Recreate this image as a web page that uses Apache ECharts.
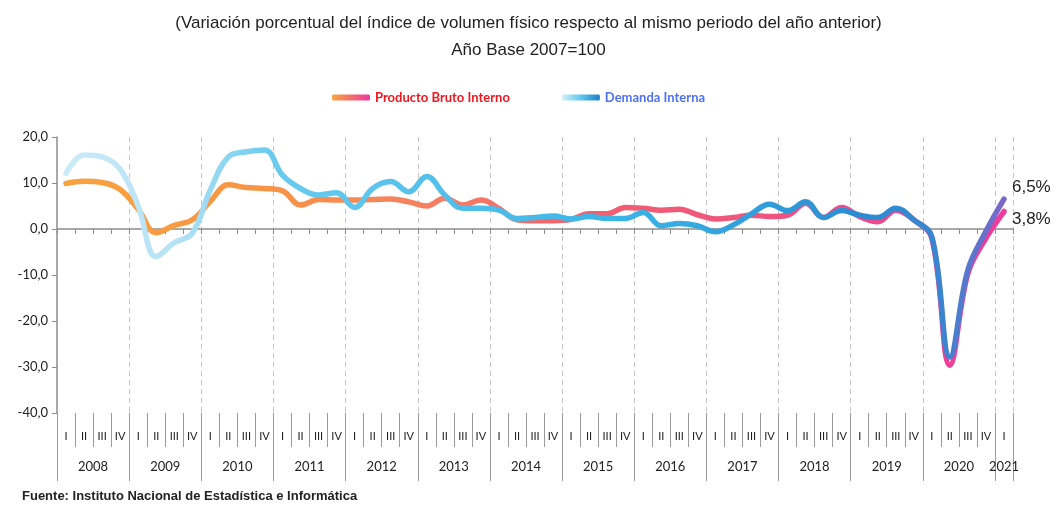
<!DOCTYPE html>
<html>
<head>
<meta charset="utf-8">
<script src="https://cdn.jsdelivr.net/npm/echarts@6/dist/echarts.min.js"></script>
<style>
  html, body { margin: 0; padding: 0; background: #fff; }
  #chart { width: 1057px; height: 511px; }
</style>
</head>
<body>
<div id="chart"></div>
<script>
// años y trimestres del eje
var anios = ['2008', '2009', '2010', '2011', '2012', '2013', '2014', '2015', '2016', '2017', '2018', '2019', '2020', '2021'];
var trimestresNombre = ['I', 'II', 'III', 'IV'];

// variacion % PBI (2008-I a 2021-I)
var pbi = [
    9.9, 10.4, 10.1, 8.6,
    4.3, -0.8, 0.8, 2.0,
    6.0, 9.6, 9.0, 8.8,
    8.3, 5.2, 6.4, 6.3,
    6.3, 6.4, 6.5, 5.9,
    5.0, 6.7, 5.2, 6.3,
    4.5, 2.0, 1.8, 1.8,
    2.1, 3.3, 3.3, 4.7,
    4.5, 4.1, 4.3, 3.1,
    2.2, 2.5, 3.0, 2.7,
    3.0, 5.6, 2.5, 4.7,
    2.7, 1.6, 4.1, 2.0,
    -2.0, -29.6, -9.6, -2.0,
    3.8
];

// variacion % Demanda Interna
var demanda = [
    12.1, 16.1, 15.7, 13.0,
    5.0, -6.0, -3.0, -0.9,
    8.5, 15.7, 16.8, 17.2,
    11.7, 8.8, 7.4, 7.9,
    4.7, 8.8, 10.3, 8.1,
    11.4, 7.4, 4.5, 4.5,
    4.1, 2.3, 2.5, 2.8,
    2.2, 2.7, 2.3, 2.3,
    3.6, 0.7, 1.2, 0.7,
    -0.6, 0.9, 3.3, 5.4,
    4.0, 5.9, 2.5, 4.0,
    3.0, 2.5, 4.5, 2.0,
    -1.7, -27.8, -8.9, -0.5,
    6.5
];

var categorias = [];
for (var a = 0; a < anios.length; a++) {
    for (var q = 0; q < 4; q++) {
        if (categorias.length < pbi.length) {
            categorias.push(trimestresNombre[q]);
        }
    }
}

function coma(v, dec) {
    return v.toFixed(dec).replace('.', ',');
}

var colorPbi = new echarts.graphic.LinearGradient(0, 0, 1, 0, [
    {offset: 0, color: '#F7A33F'},
    {offset: 0.22, color: '#F79446'},
    {offset: 0.4, color: '#F57E62'},
    {offset: 0.55, color: '#F2606E'},
    {offset: 0.75, color: '#EE5480'},
    {offset: 1, color: '#EE3A9E'}
]);
var colorDemanda = new echarts.graphic.LinearGradient(0, 0, 1, 0, [
    {offset: 0, color: '#CBEBF8'},
    {offset: 0.12, color: '#B5E2F5'},
    {offset: 0.22, color: '#6ACBEF'},
    {offset: 0.6, color: '#3AB3E6'},
    {offset: 0.85, color: '#2A8CD2'},
    {offset: 0.93, color: '#3B85D0'},
    {offset: 1, color: '#8066C8'}
]);
var legendPbi = new echarts.graphic.LinearGradient(0, 0, 1, 0, [
    {offset: 0, color: '#F7A33F'},
    {offset: 1, color: '#EE3A9E'}
]);
var legendDemanda = new echarts.graphic.LinearGradient(0, 0, 1, 0, [
    {offset: 0, color: '#D8F0FA'},
    {offset: 0.5, color: '#5FC7EE'},
    {offset: 1, color: '#1F7FC4'}
]);

var myChart = echarts.init(document.getElementById('chart'));

var option = {
    animation: false,
    title: {
        text: '(Variación porcentual del índice de volumen físico respecto al mismo periodo del año anterior)\nAño Base 2007=100',
        left: 'center',
        top: 5,
        textStyle: {
            fontFamily: '"Liberation Sans Narrow", "Liberation Sans", sans-serif',
            fontSize: 17,
            fontWeight: 'normal',
            color: '#222',
            lineHeight: 27,
            align: 'center'
        }
    },
    legend: {
        left: 327,
        top: 86,
        itemGap: 52,
        itemWidth: 38,
        itemHeight: 6,
        textStyle: {
            fontFamily: 'Lato, sans-serif',
            fontSize: 13,
            fontWeight: 'bold'
        },
        data: [
            {name: 'Producto Bruto Interno', icon: 'roundRect', itemStyle: {color: legendPbi}, textStyle: {color: '#F5141E'}},
            {name: 'Demanda Interna', icon: 'roundRect', itemStyle: {color: legendDemanda}, textStyle: {color: '#4F72F5'}}
        ]
    },
    grid: {
        left: 57,
        right: 44,
        top: 137,
        bottom: 98
    },
    xAxis: [
        {
            type: 'category',
            data: categorias,
            boundaryGap: true,
            axisLine: {onZero: true, lineStyle: {color: '#8C8C8C', width: 1.5}},
            axisTick: {show: true, length: 5, interval: 0, lineStyle: {color: '#8C8C8C'}},
            axisLabel: {show: false},
            splitLine: {
                show: true,
                interval: function (i) { return i > 0 && i % 4 === 0; },
                lineStyle: {color: '#C4C4C4', type: [5, 4], width: 1}
            }
        },
        {
            type: 'category',
            data: categorias,
            position: 'bottom',
            boundaryGap: true,
            axisLine: {show: false, onZero: false},
            axisTick: {show: true, length: 34, interval: 0, lineStyle: {color: '#9A9A9A'}},
            axisLabel: {
                interval: 0,
                margin: 18,
                fontFamily: 'Lato, sans-serif',
                fontSize: 11,
                color: '#222'
            },
            splitLine: {show: false}
        },
        {
            type: 'value',
            position: 'bottom',
            min: 0,
            max: 53,
            interval: 0.5,
            axisLine: {show: false, onZero: false},
            axisTick: {show: false},
            splitLine: {show: false},
            axisLabel: {
                margin: 47,
                fontFamily: 'Lato, sans-serif',
                fontSize: 13,
                color: '#222',
                formatter: function (v) {
                    if (v === 52.5) { return anios[13]; }
                    if (v >= 2 && (v - 2) % 4 === 0) { return anios[(v - 2) / 4] || ''; }
                    return '';
                }
            }
        },
        {
            type: 'category',
            data: categorias,
            position: 'bottom',
            boundaryGap: true,
            axisLine: {show: false, onZero: false},
            axisTick: {
                show: true,
                length: 68,
                interval: function (i) { return i % 4 === 0 || i === categorias.length - 1; },
                lineStyle: {color: '#9A9A9A'}
            },
            axisLabel: {show: false},
            splitLine: {show: false}
        }
    ],
    yAxis: {
        type: 'value',
        min: -40,
        max: 20,
        interval: 10,
        axisLine: {show: true, lineStyle: {color: '#8C8C8C', width: 1.5}},
        axisTick: {show: true, length: 5, lineStyle: {color: '#8C8C8C'}},
        splitLine: {show: false},
        axisLabel: {
            margin: 9,
            fontFamily: 'Lato, sans-serif',
            fontSize: 13,
            color: '#222',
            formatter: function (v) { return coma(v, 1); }
        }
    },
    series: [
        {
            name: 'Producto Bruto Interno',
            type: 'line',
            data: pbi,
            smooth: 0.4,
            symbol: 'none',
            z: 2,
            lineStyle: {width: 5.5, color: colorPbi, cap: 'round', join: 'round'},
            itemStyle: {color: legendPbi},
            endLabel: {
                show: true,
                offset: [0, 8],
                fontFamily: '"Liberation Sans", Arial, sans-serif',
                fontSize: 17,
                color: '#222',
                formatter: function (p) { return coma(p.value, 1) + '%'; }
            }
        },
        {
            name: 'Demanda Interna',
            type: 'line',
            data: demanda,
            smooth: 0.4,
            symbol: 'none',
            z: 3,
            lineStyle: {width: 5.5, color: colorDemanda, cap: 'round', join: 'round'},
            itemStyle: {color: legendDemanda},
            endLabel: {
                show: true,
                offset: [0, -12],
                fontFamily: '"Liberation Sans", Arial, sans-serif',
                fontSize: 17,
                color: '#222',
                formatter: function (p) { return coma(p.value, 1) + '%'; }
            }
        }
    ],
    graphic: [
        {
            type: 'text',
            left: 22,
            top: 490,
            style: {
                text: 'Fuente: Instituto Nacional de Estadística e Informática',
                font: 'bold 13px "Liberation Sans Narrow", "Liberation Sans", sans-serif',
                fill: '#222'
            }
        }
    ]
};
myChart.setOption(option);
</script>
</body>
</html>
